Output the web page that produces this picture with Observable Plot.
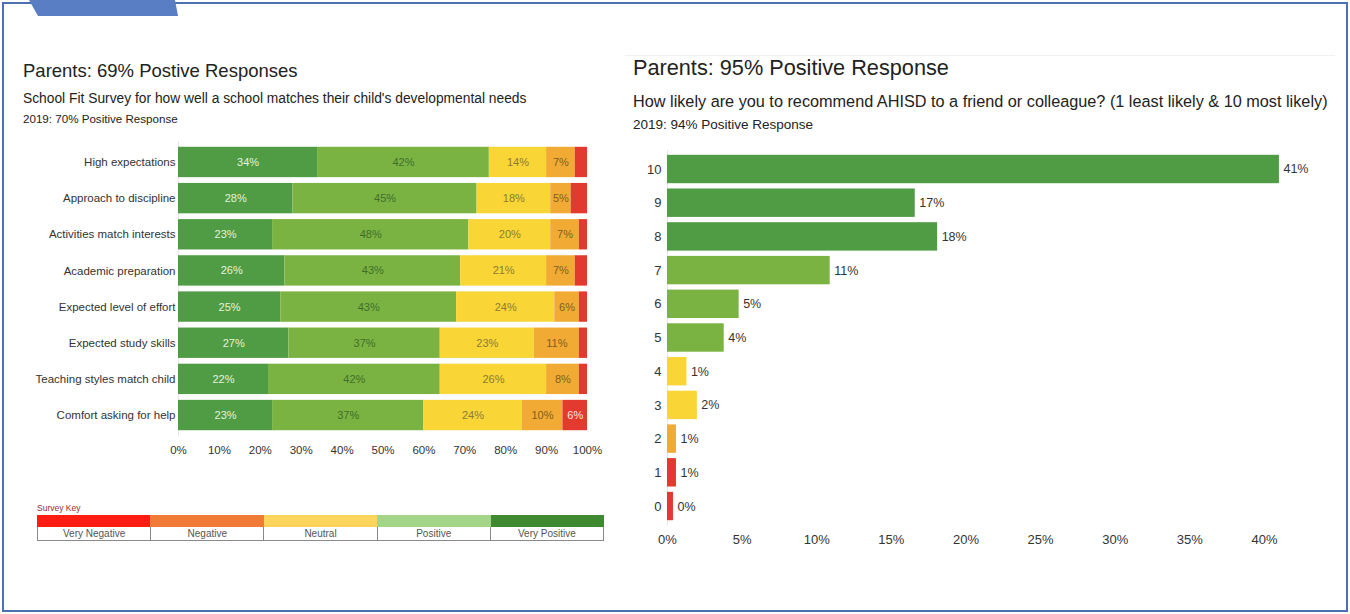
<!DOCTYPE html>
<html><head><meta charset="utf-8">
<script src="https://cdn.jsdelivr.net/npm/d3@7"></script>
<script src="https://cdn.jsdelivr.net/npm/@observablehq/plot@0.6"></script>
<style>
body{margin:0;background:#fff;font-family:"Liberation Sans",Arial,Helvetica,sans-serif;}
#page{position:relative;width:1350px;height:614px;overflow:hidden;background:#fff;}
.abs{position:absolute;white-space:nowrap;line-height:1;}
#frame{position:absolute;left:2px;top:2px;width:1346px;height:610px;box-sizing:border-box;border:2px solid #4d70b5;}
#tab{position:absolute;left:29px;top:0;width:150px;height:16px;background:#5a7ec3;clip-path:polygon(0 0,146px 0,149px 16px,9px 16px);}
#hline{position:absolute;left:625px;top:55px;width:710px;height:1px;background:#f1f1f1;}
#leftPlot{position:absolute;left:0;top:135px;}
#rightPlot{position:absolute;left:620px;top:140px;}
#legend{position:absolute;left:37px;top:503px;width:567px;}
</style></head><body>
<div id="page">
  <div id="frame"></div>
  <div id="tab"></div>
  <div id="hline"></div>
  <div class="abs" style="left:23px;top:62px;font-size:18.5px;color:#222;">Parents: 69% Postive Responses</div>
  <div class="abs" style="left:23px;top:92.3px;font-size:13.8px;color:#222;">School Fit Survey for how well a school matches their child's developmental needs</div>
  <div class="abs" style="left:23px;top:112.5px;font-size:11.6px;color:#222;">2019: 70% Positive Response</div>
  <div class="abs" style="left:633px;top:57px;font-size:21.7px;color:#222;">Parents: 95% Positive Response</div>
  <div class="abs" style="left:633px;top:92.8px;font-size:16.25px;color:#222;">How likely are you to recommend AHISD to a friend or colleague? (1 least likely &amp; 10 most likely)</div>
  <div class="abs" style="left:633px;top:117.6px;font-size:13.5px;color:#222;">2019: 94% Positive Response</div>
  <div id="leftPlot"></div>
  <div id="rightPlot"></div>
  <div id="legend"></div>
</div>
<script>
// ---- Left chart data ----
const items = ["High expectations","Approach to discipline","Activities match interests","Academic preparation","Expected level of effort","Expected study skills","Teaching styles match child","Comfort asking for help"];
const veryPositive = [34,28,23,26,25,27,22,23];
const positive     = [42,45,48,43,43,37,42,37];
const neutral      = [14,18,20,21,24,23,26,24];
const negative     = [7,5,7,7,6,11,8,10];
const veryNegative = [3,4,2,3,2,2,2,6];
const levels = ["Very Positive","Positive","Neutral","Negative","Very Negative"];
const leftTicks = [0,10,20,30,40,50,60,70,80,90,100];

// ---- Right chart data ----
const scores = ["10","9","8","7","6","5","4","3","2","1","0"];
const scoreValues = [41,16.6,18.1,10.9,4.8,3.8,1.3,2.0,0.6,0.6,0.4];
const rightTicks = [0,5,10,15,20,25,30,35,40];

// ---- Legend ----
const keyLabels = ["Very Negative","Negative","Neutral","Positive","Very Positive"];

// ---- Styles ----
const levelColors = ["#4f9c45","#7bb342","#f9d535","#f1ab34","#e23a2f"];
const levelTextColors = ["#e4f2de","#3f6e2c","#8c7c35","#80601f","#fbe3e0"];
const scoreColors = ["#4f9c45","#4f9c45","#4f9c45","#7bb342","#7bb342","#7bb342","#f9d535","#f9d535","#f1ab34","#e23a2f","#e23a2f"];
const keyColors = ["#ff1c12","#f07a36","#fdd45c","#a2d588","#3f8a30"];
const font = "'Liberation Sans', Arial, Helvetica, sans-serif";

const series = [veryPositive, positive, neutral, negative, veryNegative];
const rows = [];
items.forEach((item, i) => series.forEach((arr, k) => rows.push({item, level: levels[k], k, value: arr[i]})));

const left = Plot.plot({
  width: 620, height: 330,
  marginLeft: 178, marginRight: 33, marginTop: 6, marginBottom: 29,
  style: {fontFamily: font, fontSize: "11.5px", color: "#333", background: "transparent"},
  x: {domain: [0, 100], ticks: leftTicks, tickFormat: d => d + "%", tickSize: 0, tickPadding: 9, label: null},
  y: {domain: items, padding: 0.16, round: false, tickSize: 0, tickPadding: 3, label: null},
  color: {domain: levels, range: levelColors},
  marks: [
    Plot.ruleX([0], {stroke: "#e8e8e8"}),
    Plot.barX(rows, Plot.stackX({y: "item", x: "value", fill: "level"})),
    ...levels.map((lv, k) => Plot.text(rows, Plot.stackX({
      y: "item", x: "value",
      text: d => (d.k === k && d.value >= 5) ? d.value + "%" : "",
      fill: levelTextColors[k], fontSize: 11
    })))
  ]
});
document.getElementById("leftPlot").appendChild(left);

const scoreData = scores.map((s, i) => ({score: s, value: scoreValues[i]}));
const right = Plot.plot({
  width: 730, height: 420,
  marginLeft: 47, marginRight: 86, marginTop: 9.5, marginBottom: 34.5,
  style: {fontFamily: font, fontSize: "13px", color: "#333", background: "transparent"},
  x: {domain: [0, 40], ticks: rightTicks, tickFormat: d => d + "%", tickSize: 0, tickPadding: 9, label: null},
  y: {domain: scores, padding: 0.157, round: false, tickSize: 0, tickPadding: 6, label: null},
  color: {domain: scores, range: scoreColors},
  marks: [
    Plot.ruleX([0], {stroke: "#e8e8e8"}),
    Plot.barX(scoreData, {y: "score", x: "value", fill: "score"}),
    Plot.text(scoreData, {y: "score", x: "value", text: d => Math.round(d.value) + "%", textAnchor: "start", dx: 4, fill: "#333", fontSize: 12.5})
  ]
});
document.getElementById("rightPlot").appendChild(right);

// Legend (survey key)
const lg = document.getElementById("legend");
lg.innerHTML = `<div style="font-size:8.5px;color:#9c2a33;height:12px;line-height:10px;">Survey Key</div>`;
const strip = document.createElement("div");
strip.style.cssText = "display:flex;height:12px;";
keyColors.forEach(c => { const d = document.createElement("div"); d.style.cssText = `flex:1;background:${c};`; strip.appendChild(d); });
lg.appendChild(strip);
const labs = document.createElement("div");
labs.style.cssText = "display:flex;height:14px;border:1px solid #8a8a8a;border-top:none;box-sizing:border-box;";
keyLabels.forEach((t, i) => { const d = document.createElement("div"); d.textContent = t; d.style.cssText = `flex:1;text-align:center;font-size:10px;line-height:13px;color:#555;${i ? "border-left:1px solid #8a8a8a;" : ""}`; labs.appendChild(d); });
lg.appendChild(labs);
</script>
</body></html>
